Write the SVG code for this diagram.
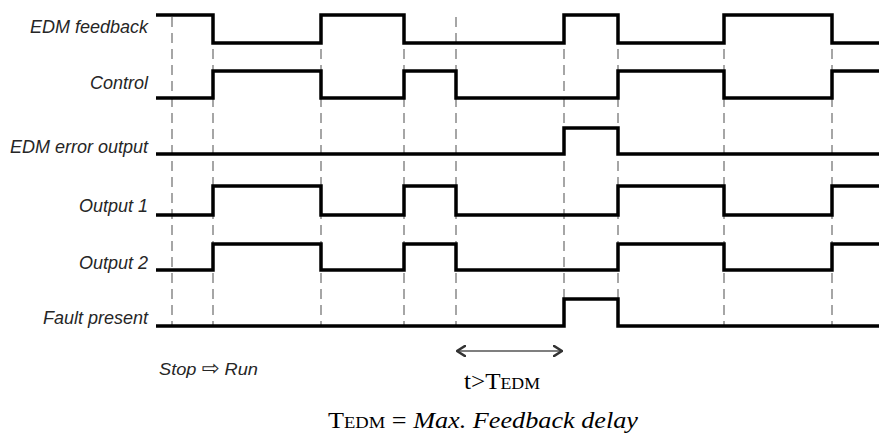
<svg xmlns="http://www.w3.org/2000/svg" width="879" height="434" viewBox="0 0 879 434">
<style>
.lbl{font-family:"Liberation Sans",Arial,sans-serif;font-style:italic;font-size:18px;fill:#262626;text-anchor:end}
.wave{fill:none;stroke:#000;stroke-width:3.5;stroke-linejoin:miter}
.guide{stroke:#a6a6a6;stroke-width:2;stroke-dasharray:10 6}
.tnr{font-family:"Liberation Serif","Times New Roman",serif;fill:#000}
</style>
<defs>
<marker id="chev" viewBox="0 0 10 12" refX="9" refY="6" markerWidth="10" markerHeight="12" markerUnits="userSpaceOnUse" orient="auto-start-reverse">
<path d="M1,1 L9,6 L1,11" fill="none" stroke="#333" stroke-width="2.6" stroke-linecap="round" stroke-linejoin="round"/>
</marker>
</defs>
<rect width="879" height="434" fill="#fff"/>
<g id="guides">
<line class="guide" x1="172" y1="17" x2="172" y2="326"/>
<line class="guide" x1="213" y1="17" x2="213" y2="326"/>
<line class="guide" x1="321" y1="17" x2="321" y2="326"/>
<line class="guide" x1="404" y1="17" x2="404" y2="326"/>
<line class="guide" x1="456" y1="17" x2="456" y2="326"/>
<line class="guide" x1="564" y1="17" x2="564" y2="326"/>
<line class="guide" x1="618" y1="17" x2="618" y2="326"/>
<line class="guide" x1="724" y1="17" x2="724" y2="326"/>
<line class="guide" x1="832" y1="17" x2="832" y2="326"/>
</g>
<g id="edm-feedback">
<text class="lbl" x="148" y="33">EDM feedback</text>
<path class="wave" d="M156,15 H213 V43 H321 V15 H404 V43 H564 V15 H618 V43 H724 V15 H832 V43 H879"/>
</g>
<g id="control">
<text class="lbl" x="148" y="89">Control</text>
<path class="wave" d="M156,98 H213 V71 H321 V98 H404 V71 H456 V98 H618 V71 H724 V98 H832 V71 H879"/>
</g>
<g id="edm-error-output">
<text class="lbl" x="148" y="153">EDM error output</text>
<path class="wave" d="M156,154 H564 V128 H618 V154 H879"/>
</g>
<g id="output-1">
<text class="lbl" x="148" y="212">Output 1</text>
<path class="wave" d="M156,215 H213 V186 H321 V215 H404 V186 H456 V215 H618 V186 H724 V215 H832 V186 H879"/>
</g>
<g id="output-2">
<text class="lbl" x="148" y="269">Output 2</text>
<path class="wave" d="M156,270 H213 V244 H321 V270 H404 V244 H456 V270 H618 V244 H724 V270 H832 V244 H879"/>
</g>
<g id="fault-present">
<text class="lbl" x="148" y="324">Fault present</text>
<path class="wave" d="M156,326 H564 V299 H618 V326 H879"/>
</g>
<g id="stop-run">
<text x="159" y="375" textLength="99" lengthAdjust="spacingAndGlyphs" style="font-family:'Liberation Sans','DejaVu Sans',sans-serif;font-style:italic;font-size:17px;fill:#262626">Stop <tspan style="font-family:'DejaVu Sans',sans-serif;font-style:normal;font-size:20px">⇨</tspan> Run</text>
</g>
<g id="connectors">
<line x1="457" y1="351" x2="562" y2="351" stroke="#555" stroke-width="1.5" marker-start="url(#chev)" marker-end="url(#chev)"/>
</g>
<g id="t-edm">
<text class="tnr" x="464" y="389" font-size="24" textLength="76" lengthAdjust="spacingAndGlyphs">t&gt;T<tspan font-size="17">EDM</tspan></text>
</g>
<g id="legend">
<text class="tnr" x="328" y="428" font-size="24" textLength="310" lengthAdjust="spacingAndGlyphs">T<tspan font-size="17">EDM</tspan> = <tspan font-style="italic">Max. Feedback delay</tspan></text>
</g>
</svg>
